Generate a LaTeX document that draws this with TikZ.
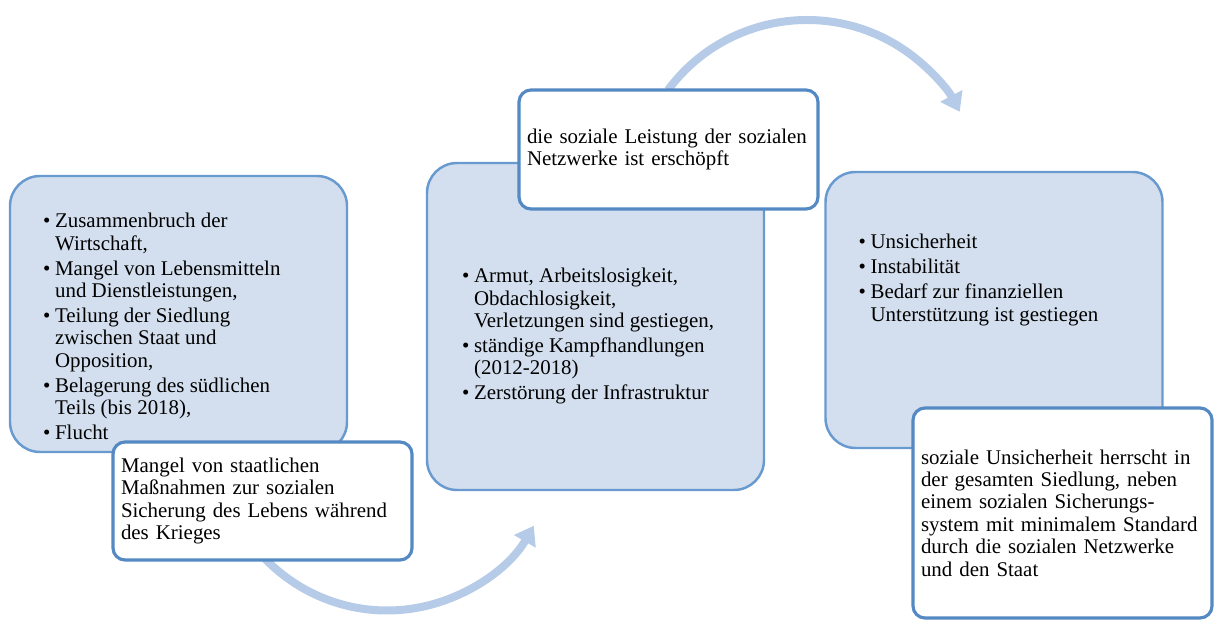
\documentclass[tikz,border=0pt]{standalone}
\usepackage{fontspec}
\setmainfont{Liberation Serif}
\usetikzlibrary{arrows.meta,positioning}
\definecolor{boxfill}{RGB}{211,223,238}
\definecolor{boxline}{RGB}{104,154,208}
\definecolor{noteline}{RGB}{84,137,195}
\definecolor{arcblue}{RGB}{182,203,232}
\newcommand\lbul{\makebox[0.24cm][l]{\textbullet}}
\newcommand\lind{\hspace*{0.24cm}}
\tikzset{
  every node/.style={font=\fontsize{11.9pt}{12.75pt}\selectfont},
  blk/.style={draw=boxline, line width=1.4pt, fill=boxfill, rounded corners=0.6cm, minimum width=6.74cm, inner sep=0pt},
  note/.style={draw=noteline, line width=1.8pt, fill=white, rounded corners=0.24cm, minimum width=5.98cm, text width=5.66cm, inner xsep=0.16cm, inner ysep=0pt, align=left},
  pts/.style={inner sep=0pt, align=left},
  flow/.style={draw=arcblue, line width=0.16cm, -{Triangle[width=0.48cm,length=0.36cm]}}
}

\begin{document}
\begin{tikzpicture}
\useasboundingbox (0,0) rectangle (24.28,12.38);

% curved arrows go first, the boxes cover their tails
\coordinate (c1) at (7.74,3.56);
\coordinate (c2) at (16.14,8.52);
\draw[flow] ([shift={(222:3.39)}]c1) arc[start angle=222, end angle=330, radius=3.39];
\draw[flow] ([shift={(143.5:3.46)}]c2) arc[start angle=143.5, end angle=28, radius=3.46];

% blue blocks
\node[blk, minimum height=5.52cm] (b1) at (3.57,6.10) {};
\node[blk, minimum height=6.54cm] (b2) at (11.91,5.85) {};
\node[blk, minimum height=5.52cm] (b3) at (19.88,6.18) {};

\node[pts, below right=0.76cm and 0.68cm of b1.north west] (t1) {%
  \lbul Zusammenbruch der\\\lind Wirtschaft,\\[1.5pt]
  \lbul Mangel von Lebensmitteln\\\lind und Dienstleistungen,\\[1.5pt]
  \lbul Teilung der Siedlung\\\lind zwischen Staat und\\\lind Opposition,\\[1.5pt]
  \lbul Belagerung des südlichen\\\lind Teils (bis 2018),\\[1.5pt]
  \lbul Flucht};
\node[pts, below right=2.12cm and 0.72cm of b2.north west] (t2) {%
  \lbul Armut, Arbeitslosigkeit,\\\lind Obdachlosigkeit,\\\lind Verletzungen sind gestiegen,\\[1.5pt]
  \lbul ständige Kampfhandlungen\\\lind (2012-2018)\\[1.5pt]
  \lbul Zerstörung der Infrastruktur};
\node[pts, below right=1.26cm and 0.68cm of b3.north west] (t3) {%
  \lbul Unsicherheit\\[1.5pt]
  \lbul Instabilität\\[1.5pt]
  \lbul Bedarf zur finanziellen\\\lind Unterstützung ist gestiegen};

% white notes
\node[note, minimum height=2.36cm] (n1) at (5.25,2.36) {Mangel von staatlichen\\Maßnahmen zur sozialen\\Sicherung des Lebens während\\des Krieges};
\node[note, minimum height=2.38cm] (n2) at (13.37,9.39) {die soziale Leistung der sozialen\\Netzwerke ist erschöpft};
\node[note, minimum height=4.20cm] (n3) at (21.25,2.12) {soziale Unsicherheit herrscht in\\der gesamten Siedlung, neben\\einem sozialen Sicherungs-\\system mit minimalem Standard\\durch die sozialen Netzwerke\\und den Staat};
\end{tikzpicture}
\end{document}
